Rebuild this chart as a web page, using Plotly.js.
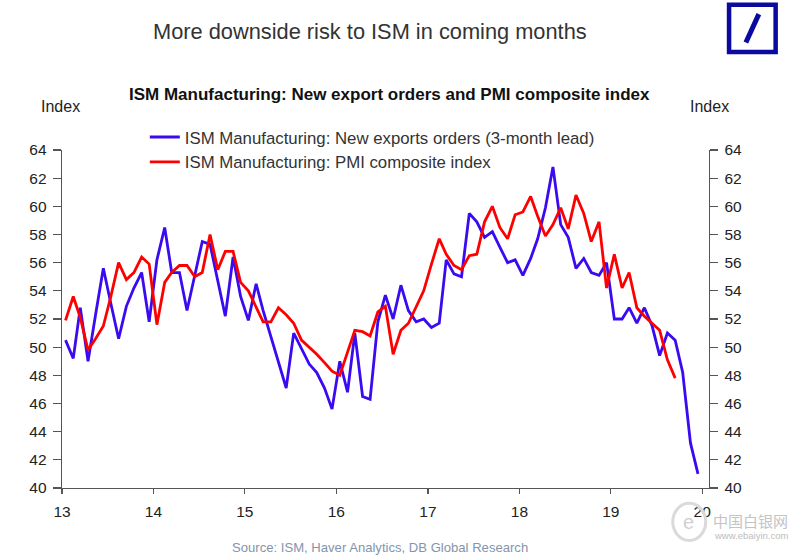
<!DOCTYPE html>
<html>
<head>
<meta charset="utf-8">
<script src="https://cdn.plot.ly/plotly-3.0.1.min.js"></script>
<style>
html,body{margin:0;padding:0;background:#fff;}
#chart{width:800px;height:557px;}
</style>
</head>
<body>
<div id="chart"></div>
<script>
// Monthly data, Jan 2013 onwards
const startYear = 2013;
const startMonth = 1;
const exportOrdersLead = [
  50.5, 49.2, 52.8, 49.0, 52.3, 55.6, 53.1, 50.6, 52.9, 54.2, 55.3, 51.8,
  56.2, 58.5, 55.3, 55.3, 52.6, 55.0, 57.5, 57.3, 54.8, 52.2, 56.4, 53.6,
  51.9, 54.5, 52.6, 50.7, 48.9, 47.1, 51.0, 49.9, 48.8, 48.2, 47.1, 45.6,
  49.0, 46.8, 51.0, 46.5, 46.3, 51.8, 53.7, 52.0, 54.4, 52.6, 51.8, 52.0,
  51.4, 51.7, 56.2, 55.2, 55.0, 59.5, 58.9, 57.8, 58.2, 57.1, 56.0, 56.2,
  55.1, 56.3, 57.7, 59.9, 62.8, 58.7, 57.8, 55.6, 56.3, 55.3, 55.1, 56.0,
  52.0, 52.0, 52.8, 51.7, 52.8, 51.5, 49.4, 51.0, 50.5, 48.2, 43.2, 41.0
];
const pmiComposite = [
  51.9, 53.6, 52.1, 49.8, 50.6, 51.5, 53.6, 56.0, 54.8, 55.3, 56.4, 55.9,
  51.6, 54.6, 55.3, 55.8, 55.8, 55.0, 55.3, 58.0, 55.5, 56.8, 56.8, 54.6,
  54.0, 52.9, 51.8, 51.8, 52.8, 52.3, 51.7, 50.5, 50.0, 49.5, 48.9, 48.3,
  48.0, 49.6, 51.2, 51.1, 50.8, 52.5, 52.9, 49.5, 51.2, 51.7, 52.9, 54.0,
  55.9, 57.7, 56.6, 55.8, 55.5, 56.5, 56.6, 58.9, 60.0, 58.5, 57.7, 59.4,
  59.6, 60.7, 59.3, 57.9, 58.7, 59.9, 58.4, 60.8, 59.5, 57.5, 58.9, 54.2,
  56.6, 54.2, 55.3, 52.8, 52.2, 51.7, 51.2, 49.1, 47.8
];
const yearTicks = ['2013-01-01','2014-01-01','2015-01-01','2016-01-01','2017-01-01','2018-01-01','2019-01-01','2020-01-01'];
const yearLabels = ['13','14','15','16','17','18','19','20'];
const seriesNames = ['ISM Manufacturing: New exports orders (3-month lead)', 'ISM Manufacturing: PMI composite index'];

function monthDates(n){
  const out = [];
  for (let i = 0; i < n; i++) {
    const m0 = (startMonth - 1) + i;
    const y = startYear + Math.floor(m0 / 12);
    const m = (m0 % 12) + 1;
    out.push(y + '-' + String(m).padStart(2,'0') + '-15');
  }
  return out;
}

const FONT = 'Liberation Sans, Arial, sans-serif';

const traces = [
  {x: monthDates(exportOrdersLead.length), y: exportOrdersLead, type:'scatter', mode:'lines',
   name: seriesNames[0], line:{color:'#3a0af0', width:2.8}},
  {x: monthDates(pmiComposite.length), y: pmiComposite, type:'scatter', mode:'lines',
   name: seriesNames[1], line:{color:'#ff0000', width:2.8}},
  {x: monthDates(pmiComposite.length), y: pmiComposite, yaxis:'y2', type:'scatter', mode:'lines',
   showlegend:false, hoverinfo:'skip', line:{color:'rgba(0,0,0,0)', width:0}}
];

const axisCommon = {
  range:[40,64], dtick:2, tick0:40, ticks:'outside', ticklen:8, tickwidth:1.2, ticklabelstandoff:3,
  tickcolor:'#555', showline:true, linecolor:'#555', linewidth:1.3,
  showgrid:false, zeroline:false, tickfont:{family:FONT, size:15.5, color:'#222'}
};

const layout = {
  width:800, height:557,
  margin:{l:62, r:91, t:150, b:69},
  paper_bgcolor:'#fff', plot_bgcolor:'#fff',
  showlegend:true,
  legend:{x:0.128, xanchor:'left', y:1.09, yanchor:'top', bgcolor:'rgba(0,0,0,0)',
    font:{family:FONT, size:16.8, color:'#333'}, tracegroupgap:0, itemwidth:30},
  xaxis:{type:'date', range:['2013-01-01','2020-01-28'], tickvals:yearTicks, ticktext:yearLabels,
    ticks:'outside', ticklen:5, tickwidth:1.2, tickcolor:'#555', showline:true, linecolor:'#555', ticklabelstandoff:4,
    linewidth:1.3, showgrid:false, zeroline:false, tickfont:{family:FONT, size:15.5, color:'#222'}},
  yaxis: Object.assign({side:'left'}, axisCommon),
  yaxis2: Object.assign({side:'right', overlaying:'y'}, axisCommon),
  annotations:[
    {text:'More downside risk to ISM in coming months', xref:'paper', yref:'paper', x:0.476, y:1.35, xanchor:'center', yanchor:'middle',
     showarrow:false, font:{family:FONT, size:21.8, color:'#333'}},
    {text:'<b>ISM Manufacturing: New export orders and PMI composite index</b>', xref:'paper', yref:'paper', x:0.506, y:1.163,
     xanchor:'center', yanchor:'middle', showarrow:false, font:{family:FONT, size:17, color:'#111'}},
    {text:'Index', xref:'paper', yref:'paper', x:-0.003, y:1.13, xanchor:'center', yanchor:'middle', showarrow:false,
     font:{family:FONT, size:16, color:'#222'}},
    {text:'Index', xref:'paper', yref:'paper', x:1.0, y:1.13, xanchor:'center', yanchor:'middle', showarrow:false,
     font:{family:FONT, size:16, color:'#222'}},
    {text:'Source: ISM, Haver Analytics, DB Global Research', xref:'paper', yref:'paper', x:0.492, y:-0.175,
     xanchor:'center', yanchor:'middle', showarrow:false, font:{family:FONT, size:13.1, color:'#8494ab'}},
    {text:'中国白银网', xref:'paper', yref:'paper', x:1.003, y:-0.095, xanchor:'left', yanchor:'middle', showarrow:false,
     font:{family:'Noto Sans CJK SC', size:15, color:'#c4c4c4'}},
    {text:'www.ebaiyin.com', xref:'paper', yref:'paper', x:1.005, y:-0.142, xanchor:'left', yanchor:'middle', showarrow:false,
     font:{family:FONT, size:9.5, color:'#bdbdbd'}},
    {text:'e', xref:'paper', yref:'paper', x:0.969, y:-0.1, xanchor:'center', yanchor:'middle', showarrow:false,
     font:{family:FONT, size:20, color:'#d0d0d0'}}
  ],
  shapes:[
    {type:'rect', xref:'paper', yref:'paper', x0:1.031, x1:1.103, y0:1.29, y1:1.43,
     line:{color:'#0a0aa0', width:4.5}, fillcolor:'rgba(0,0,0,0)'},
    {type:'line', xref:'paper', yref:'paper', x0:1.057, x1:1.077, y0:1.318, y1:1.402,
     line:{color:'#0a0aa0', width:5}},
    {type:'circle', xref:'paper', yref:'paper', x0:0.944, x1:0.995, y0:-0.155, y1:-0.045,
     line:{color:'#dadada', width:3}, fillcolor:'rgba(0,0,0,0)'}
  ]
};

Plotly.newPlot('chart', traces, layout, {staticPlot:true, displayModeBar:false});
</script>
</body>
</html>
